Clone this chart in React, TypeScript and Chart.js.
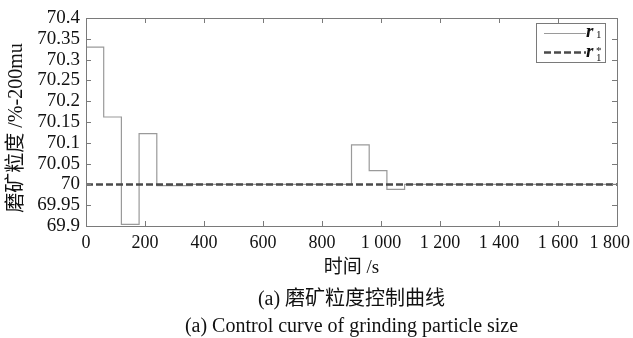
import React, { useEffect, useRef } from "react";
import { Chart, registerables } from "chart.js";

Chart.register(...registerables);

// Step times (s) and grinding particle size r1 (% -200mu)
const stepTimes = [0, 60, 120, 180, 240, 360, 900, 960, 1020, 1080, 1800];
const r1Values = [70.33, 70.162, 69.904, 70.122, 69.997, 70.0, 70.095, 70.033, 69.988, 70.0, 70.0];
// Set point r1*
const refTimes = [0, 1800];
const refValues = [70, 70];

const xTicksMin = 0;
const xTicksMax = 1800;
const xStep = 200;
const yMin = 69.9;
const yMax = 70.4;
const yStep = 0.05;

const yTitle = "磨矿粒度 /%-200mu";
const xTitle = "时间 /s";
const captionCn = "(a) 磨矿粒度控制曲线";
const captionEn = "(a) Control curve of grinding particle size";

const SERIF = "'Liberation Serif', 'Times New Roman', serif";
const CJK = "'Liberation Serif', 'Noto Sans CJK SC', serif";

const fmtX = (v: number) => {
  if (v >= 1000) {
    const th = Math.floor(v / 1000);
    const rest = String(v % 1000).padStart(3, "0");
    return th + " " + rest;
  }
  return String(v);
};
const fmtY = (v: number) => String(Number(v.toFixed(2)));

const framePlugin = {
  id: "frameTicks",
  afterDatasetsDraw(chart: any) {
    const { ctx, chartArea, width } = chart;
    const { left, right, top, bottom } = chartArea;
    const xs = chart.scales.x;
    const ys = chart.scales.y;
    ctx.save();
    ctx.strokeStyle = "#7a7a7a";
    ctx.lineWidth = 1;
    ctx.beginPath();
    ctx.rect(Math.round(left) + 0.5, Math.round(top) + 0.5, Math.round(right - left), Math.round(bottom - top));
    ctx.stroke();
    const L = 5;
    ctx.beginPath();
    xs.ticks.forEach((t: any) => {
      const px = Math.round(xs.getPixelForValue(t.value)) + 0.5;
      ctx.moveTo(px, bottom);
      ctx.lineTo(px, bottom - L);
      ctx.moveTo(px, top);
      ctx.lineTo(px, top + L);
    });
    ys.ticks.forEach((t: any) => {
      const py = Math.round(ys.getPixelForValue(t.value)) + 0.5;
      ctx.moveTo(left, py);
      ctx.lineTo(left + L, py);
      ctx.moveTo(right, py);
      ctx.lineTo(right - L, py);
    });
    ctx.stroke();

    // x tick labels (kept inside the canvas)
    ctx.fillStyle = "#111";
    ctx.font = "18px " + SERIF;
    ctx.textBaseline = "alphabetic";
    ctx.textAlign = "center";
    xs.ticks.forEach((t: any) => {
      const label = fmtX(Number(t.value));
      const w = ctx.measureText(label).width;
      let px = xs.getPixelForValue(t.value);
      px = Math.min(px, width - 3 - w / 2);
      ctx.fillText(label, px, bottom + 21.5);
    });

    // y title
    ctx.save();
    ctx.translate(17, 128);
    ctx.rotate(-Math.PI / 2);
    ctx.textAlign = "center";
    ctx.textBaseline = "middle";
    ctx.font = "20px " + CJK;
    ctx.fillText(yTitle, 0, 0);
    ctx.restore();

    // legend box
    const bx = 536.5, by = 23.5, bw = 69, bh = 39;
    ctx.fillStyle = "#ffffff";
    ctx.fillRect(bx, by, bw, bh);
    ctx.strokeStyle = "#7a7a7a";
    ctx.strokeRect(bx, by, bw, bh);
    const y1 = 33.5, y2 = 52.5;
    ctx.strokeStyle = "#9a9a9a";
    ctx.lineWidth = 1;
    ctx.beginPath();
    ctx.moveTo(544, y1);
    ctx.lineTo(586, y1);
    ctx.stroke();
    ctx.strokeStyle = "#4a4a4a";
    ctx.lineWidth = 2.5;
    ctx.setLineDash([7, 3]);
    ctx.beginPath();
    ctx.moveTo(544, y2);
    ctx.lineTo(586, y2);
    ctx.stroke();
    ctx.setLineDash([]);
    ctx.fillStyle = "#111";
    ctx.textBaseline = "alphabetic";
    ctx.textAlign = "left";
    ctx.font = "italic bold 19px " + SERIF;
    ctx.fillText("r", 586, 37);
    ctx.fillText("r", 586, 57);
    ctx.font = "11px " + SERIF;
    ctx.fillText("1", 596, 38);
    ctx.fillText("1", 596, 61);
    ctx.font = "11px " + SERIF;
    ctx.fillText("*", 596, 54);

    // captions
    const cx = (left + right) / 2;
    ctx.textAlign = "center";
    ctx.textBaseline = "middle";
    ctx.font = "20px " + CJK;
    ctx.fillText(captionCn, cx, 300);
    ctx.font = "20px " + SERIF;
    ctx.fillText(captionEn, cx, 327);
    ctx.restore();
  },
};

export default function App() {
  const ref = useRef<HTMLCanvasElement | null>(null);
  useEffect(() => {
    if (!ref.current) return;
    const r1Data = stepTimes.map((t, i) => ({ x: t, y: r1Values[i] }));
    const refData = refTimes.map((t, i) => ({ x: t, y: refValues[i] }));
    const chart = new Chart(ref.current, {
      type: "line",
      data: {
        datasets: [
          {
            label: "r1",
            data: r1Data,
            stepped: true,
            borderColor: "#9a9a9a",
            borderWidth: 1.2,
            pointRadius: 0,
            fill: false,
            order: 1,
          },
          {
            label: "r1*",
            data: refData,
            borderColor: "#4a4a4a",
            borderWidth: 2.5,
            borderDash: [7, 3],
            pointRadius: 0,
            fill: false,
            order: 0,
          },
        ],
      },
      options: {
        responsive: false,
        animation: false,
        layout: { padding: { left: 0, right: 16, top: 18, bottom: 58 } },
        plugins: {
          legend: { display: false },
          tooltip: { enabled: false },
          title: { display: false },
        },
        scales: {
          x: {
            type: "linear",
            min: xTicksMin,
            max: xTicksMax,
            grid: { display: false, drawTicks: false, tickLength: 0 },
            border: { display: false },
            ticks: {
              stepSize: xStep,
              display: false,
              autoSkip: false,
            },
            title: {
              display: true,
              text: xTitle,
              color: "#111",
              font: { family: CJK, size: 19 },
              padding: { top: 0, bottom: 1 },
            },
            afterFit: (s: any) => {
              s.height = 54;
              s.paddingLeft = 0;
              s.paddingRight = 0;
            },
          },
          y: {
            type: "linear",
            min: yMin,
            max: yMax,
            grid: { display: false, drawTicks: false, tickLength: 0 },
            border: { display: false },
            ticks: {
              stepSize: yStep,
              callback: (v: any) => fmtY(Number(v)),
              color: "#111",
              font: { family: SERIF, size: 19 },
              padding: 6,
              autoSkip: false,
            },
            title: { display: false },
            afterFit: (s: any) => {
              s.width = 86;
              s.paddingTop = 0;
              s.paddingBottom = 0;
            },
          },
        },
      },
      plugins: [framePlugin],
    });
    return () => chart.destroy();
  }, []);
  return (
    <div style={{ position: "fixed", left: 0, top: 0, width: 633, height: 338, background: "#fff" }}>
      <canvas ref={ref} width={633} height={338} />
    </div>
  );
}
